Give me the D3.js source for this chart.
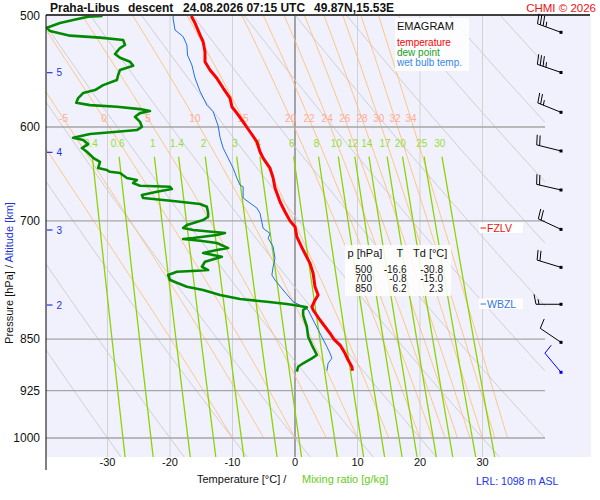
<!DOCTYPE html>
<html>
<head>
<meta charset="utf-8">
<script src="https://cdn.jsdelivr.net/npm/d3@7"></script>
<style>
body { margin: 0; background: #fff; }
svg { font-family: "Liberation Sans", Arial, sans-serif; }
</style>
</head>
<body>
<div id="vis"></div>
<script>
// sounding values (p in hPa, T in °C)
const TEMP_P = [500, 505.8, 515.8, 521.6, 530.2, 539.0, 546.4, 553.9, 562.8, 572.2, 580.4, 586.5, 594.9, 604.7, 614.7, 624.9, 631.4, 641.9, 652.5, 663.3, 678.4, 689.6, 700, 706.9, 718.6, 734.4, 750.6, 763.0, 780.0, 790.7, 797.4, 806.1, 810.4, 823.8, 842.0, 850, 858.4, 870.1, 879.9, 889.5, 895.3];
const TEMP_T = [-16.6, -16.0, -15.2, -14.7, -14.4, -14.4, -13.6, -12.5, -11.5, -10.4, -10.1, -9.3, -8.3, -7.2, -6.1, -5.6, -5.1, -4.0, -3.5, -3.2, -2.4, -1.6, -0.8, 0.0, 0.3, 1.3, 2.4, 2.9, 3.2, 3.7, 3.2, 2.7, 2.9, 4.0, 5.6, 6.2, 7.2, 8.0, 8.5, 9.1, 9.2];

const DEW_P = [500, 500.6, 503.3, 505.8, 509.7, 512.5, 516.4, 518.1, 520.1, 524.4, 527.0, 532.2, 535.5, 539.0, 542.5, 546.4, 550.9, 555.5, 560.1, 564.7, 567.5, 572.2, 576.6, 578.8, 580.4, 582.6, 584.5, 586.5, 590.0, 594.9, 599.8, 603.0, 604.7, 607.0, 610.7, 613.0, 617.1, 621.1, 624.9, 631.1, 635.3, 641.9, 644.0, 645.8, 647.1, 652.5, 654.6, 657.9, 660.8, 661.9, 664.4, 667.3, 671.0, 674.3, 677.6, 680.9, 684.0, 691.1, 695.3, 699.1, 704.8, 708.3, 710.6, 714.1, 716.5, 720.0, 721.2, 723.2, 726.0, 732.0, 734.4, 738.0, 742.5, 748.6, 754.8, 758.9, 759.8, 761.0, 765.1, 771.5, 780.0, 784.2, 790.7, 795.9, 799.5, 802.5, 805.1, 806.9, 810.4, 817.1, 833.0, 846.7, 858.4, 872.5, 877.3, 884.5, 889.5, 896.8];
const DEW_T = [-30.8, -33.1, -35.5, -37.6, -39.7, -39.2, -36.0, -31.2, -27.5, -27.2, -28.0, -28.8, -28.0, -26.4, -25.9, -28.0, -28.3, -28.5, -30.7, -32.0, -33.9, -34.7, -35.0, -32.8, -28.5, -24.8, -23.2, -24.8, -25.6, -24.8, -24.5, -25.3, -28.5, -32.8, -35.5, -33.9, -33.1, -34.1, -33.3, -32.3, -31.2, -31.5, -30.1, -29.6, -28.0, -26.9, -25.3, -25.9, -24.8, -20.0, -19.7, -22.1, -24.5, -24.3, -19.5, -15.2, -14.1, -13.9, -13.9, -14.7, -17.3, -17.9, -16.3, -11.2, -12.5, -16.3, -17.9, -15.2, -12.5, -10.7, -12.5, -14.7, -11.7, -14.4, -14.9, -13.9, -15.7, -18.9, -20.3, -20.0, -17.3, -14.7, -12.0, -8.8, -4.5, -1.3, 0.8, 1.9, 1.3, 1.3, 1.9, 2.1, 2.7, 3.5, 2.7, 1.3, 0.5, 0.3];

const WET_P = [500, 502.3, 511.6, 517.2, 524.4, 533.1, 541.9, 553.6, 565.8, 578.8, 585.1, 598.8, 610.2, 621.1, 631.4, 641.9, 652.5, 660.0, 661.9, 674.3, 679.8, 685.4, 691.4, 708.7, 714.6, 720.4, 730.4, 744.4, 754.8, 765.1, 771.5, 784.2, 799.5, 806.1, 810.4, 823.8, 842.0, 860.7, 870.1, 877.3, 884.5, 895.3];
const WET_T = [-19.5, -19.5, -19.2, -17.9, -17.3, -17.2, -16.5, -16.0, -15.2, -14.1, -13.1, -12.3, -12.0, -11.5, -10.7, -9.9, -9.3, -8.8, -8.3, -8.3, -7.2, -6.1, -5.6, -5.1, -4.0, -4.3, -3.5, -3.2, -3.5, -3.7, -3.2, -1.9, -0.3, 1.3, 2.1, 2.9, 4.0, 5.1, 5.6, 5.9, 5.3, 5.1];

// wind: level, direction (deg), speed (kt)
const WIND_P = [513.6, 548.6, 585.7, 624.1, 665.4, 709.9, 755.6, 802.8, 854.6, 897.7];
const WIND_DIR = [290, 289, 292, 284, 283, 295, 287, 270, 304, 320];
const WIND_KT = [35, 35, 25, 20, 20, 20, 20, 15, 10, 10];

// table in the box
const TABLE_P = [500, 700, 850];
const TABLE_T = ["-16.6", "-0.8", "6.2"];
const TABLE_TD = ["-30.8", "-15.0", "2.3"];

// axes and reference lines
const T_TICKS = [-30, -20, -10, 0, 10, 20, 30];
const P_LABELS = [500, 600, 700, 850, 925, 1000];
const P_LINES = [600, 700, 850, 925, 1000];
const ALT_KM = [2, 3, 4, 5];
const ALT_P = [803.8, 710.6, 625.5, 548.8];
const DRY_T1000 = [-30, -20, -10, 0, 10, 20, 30, 40, 50, 60, 70, 80, 90, 100];
const MOIST_THW = [-10, -5, 0, 5, 10, 15, 20, 22, 24, 26, 28, 30, 32, 34];
const MIX_W = [0.4, 0.6, 1, 1.4, 2, 3, 4, 6, 8, 10, 12, 14, 17, 20, 25, 30];
const FZLV_P = 708.3;
const WBZL_P = 802.5;

const WIDTH = 600, HEIGHT = 500;
const PLOT = {left: 46, right: 545, top: 16, bottom: 457, bgRight: 591};

const X = d3.scaleLinear().domain([-40, 40]).range([45, 545]);
const Y = d3.scaleLog().domain([500, 1000]).range([16, 438]);
const P_BOTTOM = Y.invert(PLOT.bottom);

const svg = d3.select("#vis").append("svg")
  .attr("width", WIDTH).attr("height", HEIGHT);

svg.append("defs").append("clipPath").attr("id", "clip")
  .append("rect")
  .attr("x", PLOT.left).attr("y", PLOT.top)
  .attr("width", PLOT.right - PLOT.left).attr("height", PLOT.bottom - PLOT.top);

// background
svg.append("rect")
  .attr("x", PLOT.left).attr("y", PLOT.top)
  .attr("width", PLOT.bgRight - PLOT.left).attr("height", PLOT.bottom - PLOT.top)
  .attr("fill", "#f1f1fd");

const grid = svg.append("g").attr("clip-path", "url(#clip)");

// vertical temperature lines
grid.selectAll(".vgrid").data(T_TICKS).join("line")
  .attr("x1", d => X(d)).attr("x2", d => X(d))
  .attr("y1", PLOT.top).attr("y2", PLOT.bottom)
  .attr("stroke", d => d === 0 ? "#7a7a7a" : "#d2d2d2")
  .attr("stroke-width", d => d === 0 ? 1.3 : 1);

// physics helpers for the reference lines
const KAPPA = 0.2857;
function esat(tc) { return 6.112 * Math.exp(17.67 * tc / (tc + 243.5)); }
function dewFromMix(w, p) {
  const a = Math.log(w * p / (622 + w) / 6.112);
  return 243.5 * a / (17.67 - a);
}
function moistRate(p, tk) {
  const es = esat(tk - 273.15);
  const rs = 0.622 * es / (p - es);
  const L = 2.501e6;
  return (287.04 * tk + L * rs) / (1005.7 + L * L * rs * 0.622 / (287.04 * tk * tk)) / p;
}
function moistLine(thw) {
  const pts = [[1000, thw]];
  let tk = thw + 273.15;
  for (let p = 1000; p > 500; p -= 2) {
    const k1 = moistRate(p, tk);
    const k2 = moistRate(p - 1, tk - k1);
    tk -= 2 * k2;
    pts.push([p - 2, tk - 273.15]);
  }
  return pts;
}
function pSteps(p0, p1) {
  const out = [];
  for (let p = p0; p < p1; p += 5) out.push(p);
  out.push(p1);
  return out;
}

const line = d3.line().x(d => X(d[1])).y(d => Y(d[0]));

// dry adiabats
grid.selectAll(".dry").data(DRY_T1000).join("path")
  .attr("d", t => line(pSteps(500, P_BOTTOM).map(p => [p, (t + 273.15) * Math.pow(p / 1000, KAPPA) - 273.15])))
  .attr("fill", "none").attr("stroke", "#cfcfcf").attr("stroke-width", 1);

// moist adiabats
const moistData = MOIST_THW.map(t => ({t: t, pts: moistLine(t)}));
grid.selectAll(".moist").data(moistData).join("path")
  .attr("d", d => line(d.pts))
  .attr("fill", "none").attr("stroke", "#ffbe73").attr("stroke-width", 0.9);

// mixing ratio lines
grid.selectAll(".mix").data(MIX_W).join("path")
  .attr("d", w => line(pSteps(630, P_BOTTOM).map(p => [p, dewFromMix(w, p)])))
  .attr("fill", "none").attr("stroke", "#8cd400").attr("stroke-width", 1.3);

// horizontal pressure lines
svg.selectAll(".hgrid").data(P_LINES).join("line")
  .attr("x1", PLOT.left).attr("x2", PLOT.right)
  .attr("y1", d => Y(d)).attr("y2", d => Y(d))
  .attr("stroke", "#a6a6a6").attr("stroke-width", 1.3);

// moist adiabat labels
const MOIST_LABEL_P = Y.invert(118);
svg.selectAll(".mlab").data(moistData.filter(d => d.t >= -5)).join("text")
  .attr("x", d => {
    const pt = d.pts.reduce((a, b) => Math.abs(b[0] - MOIST_LABEL_P) < Math.abs(a[0] - MOIST_LABEL_P) ? b : a);
    return X(pt[1]);
  })
  .attr("y", 122)
  .attr("text-anchor", "middle")
  .attr("font-size", "10px")
  .attr("fill", "#ffab94")
  .text(d => d.t);

// mixing ratio labels
const MIX_LABEL_P = Y.invert(143);
svg.selectAll(".wlab").data(MIX_W).join("text")
  .attr("x", w => X(dewFromMix(w, MIX_LABEL_P)))
  .attr("y", 147)
  .attr("text-anchor", "middle")
  .attr("font-size", "10px")
  .attr("fill", "#99dd33")
  .text(w => w);

// profiles
const prof = svg.append("g").attr("clip-path", "url(#clip)");
prof.append("path").datum(d3.zip(WET_P, WET_T))
  .attr("d", line).attr("fill", "none")
  .attr("stroke", "#1f6fe6").attr("stroke-width", 1);
prof.append("path").datum(d3.zip(DEW_P, DEW_T))
  .attr("d", line).attr("fill", "none")
  .attr("stroke", "#008a00").attr("stroke-width", 2.6).attr("stroke-linejoin", "round");
prof.append("path").datum(d3.zip(TEMP_P, TEMP_T))
  .attr("d", line).attr("fill", "none")
  .attr("stroke", "#ff0000").attr("stroke-width", 3).attr("stroke-linejoin", "round");

// left axis, title rule
svg.append("line").attr("x1", 46).attr("x2", 46).attr("y1", 15).attr("y2", 470)
  .attr("stroke", "#000").attr("stroke-width", 1);
svg.append("line").attr("x1", 46).attr("x2", 590).attr("y1", 15).attr("y2", 15)
  .attr("stroke", "#000").attr("stroke-width", 1.5);

// pressure labels
svg.selectAll(".plab").data(P_LABELS).join("text")
  .attr("x", 40).attr("y", d => Y(d) + 4)
  .attr("text-anchor", "end").attr("font-size", "12px").attr("fill", "#111")
  .text(d => d);

// altitude ticks
const alt = svg.append("g");
alt.selectAll("line").data(ALT_P).join("line")
  .attr("x1", 47).attr("x2", 52.5)
  .attr("y1", d => Y(d)).attr("y2", d => Y(d))
  .attr("stroke", "#2233dd").attr("stroke-width", 1.2);
alt.selectAll("text").data(ALT_KM).join("text")
  .attr("x", 56.5).attr("y", (d, i) => Y(ALT_P[i]) + 3.5)
  .attr("font-size", "10px").attr("fill", "#2233dd")
  .text(d => d);

// temperature tick labels
svg.selectAll(".tlab").data(T_TICKS).join("text")
  .attr("x", d => X(d)).attr("y", 466)
  .attr("text-anchor", "middle").attr("font-size", "11px").attr("fill", "#111")
  .text(d => d);

// axis titles
const ytitle = svg.append("text")
  .attr("transform", "translate(13,273) rotate(-90)")
  .attr("text-anchor", "middle").attr("font-size", "11px");
ytitle.append("tspan").attr("fill", "#111").text("Pressure [hPa]  /  ");
ytitle.append("tspan").attr("fill", "#2233dd").text("Altitude [km]");

svg.append("text").attr("x", 197).attr("y", 483).attr("font-size", "11px").attr("fill", "#111")
  .text("Temperature [°C]  /");
svg.append("text").attr("x", 302).attr("y", 483).attr("font-size", "11px").attr("fill", "#66cc22")
  .text("Mixing ratio [g/kg]");
svg.append("text").attr("x", 476).attr("y", 485).attr("font-size", "10.5px").attr("fill", "#2233ee")
  .text("LRL: 1098 m ASL");

// title
const TITLE = [["Praha-Libus", 50], ["descent", 128], ["24.08.2026 07:15 UTC", 183], ["49.87N,15.53E", 314]];
svg.selectAll(".title").data(TITLE).join("text")
  .attr("x", d => d[1]).attr("y", 12)
  .attr("font-size", "12px").attr("font-weight", "bold").attr("fill", "#111")
  .text(d => d[0]);
svg.append("text").attr("x", 596).attr("y", 12).attr("text-anchor", "end")
  .attr("font-size", "11.5px").attr("fill", "#ee1111").text("CHMI © 2026");

// legend
svg.append("rect").attr("x", 395).attr("y", 18).attr("width", 74).attr("height", 53)
  .attr("fill", "#fff").attr("fill-opacity", 0.85);
svg.append("text").attr("x", 397).attr("y", 30).attr("font-size", "11px").attr("fill", "#111").text("EMAGRAM");
const LEGEND = [["temperature", "#ff0000"], ["dew point", "#22a022"], ["wet bulb temp.", "#3388ee"]];
svg.selectAll(".leg").data(LEGEND).join("text")
  .attr("x", 397).attr("y", (d, i) => 45.5 + i * 10)
  .attr("font-size", "10px").attr("fill", d => d[1])
  .text(d => d[0]);

// level markers
function levelTag(p, label, color) {
  const yy = Y(p);
  svg.append("rect").attr("x", 479).attr("y", yy - 5.5).attr("width", 44).attr("height", 10.5)
    .attr("fill", "#fff").attr("fill-opacity", 0.9);
  svg.append("line").attr("x1", 480.5).attr("x2", 486).attr("y1", yy).attr("y2", yy)
    .attr("stroke", color).attr("stroke-width", 1);
  svg.append("text").attr("x", 487).attr("y", yy + 4)
    .attr("font-size", "10.5px").attr("fill", color).text(label);
}
levelTag(FZLV_P, "FZLV", "#ee1111");
levelTag(WBZL_P, "WBZL", "#3377dd");

// value table
svg.append("rect").attr("x", 345).attr("y", 245).attr("width", 106).attr("height", 51)
  .attr("fill", "#fff").attr("fill-opacity", 0.85);
const HEAD = [["p [hPa]", 347.5], ["T", 396.5], ["Td [°C]", 413]];
svg.selectAll(".thead").data(HEAD).join("text")
  .attr("x", d => d[1]).attr("y", 257)
  .attr("font-size", "11px").attr("fill", "#111").text(d => d[0]);
const rows = svg.selectAll(".trow").data(TABLE_P).join("g")
  .attr("transform", (d, i) => "translate(0," + (272.5 + i * 9.7) + ")");
rows.append("text").attr("x", 372).attr("text-anchor", "end").attr("font-size", "10px").attr("fill", "#111").text(d => d);
rows.append("text").attr("x", 406.5).attr("text-anchor", "end").attr("font-size", "10px").attr("fill", "#111").text((d, i) => TABLE_T[i]);
rows.append("text").attr("x", 443).attr("text-anchor", "end").attr("font-size", "10px").attr("fill", "#111").text((d, i) => TABLE_TD[i]);

// wind barbs
const BARB_X = 561, STAFF = 25;
WIND_P.forEach((p, i) => {
  const color = i === WIND_P.length - 1 ? "#0000ee" : "#000";
  const yy = Y(p);
  const a = WIND_DIR[i] * Math.PI / 180;
  const dx = Math.sin(a), dy = -Math.cos(a);
  const nx = -dy, ny = dx;
  const g = svg.append("g").attr("stroke", color).attr("stroke-width", 1).attr("fill", "none");
  const ex = BARB_X + dx * STAFF, ey = yy + dy * STAFF;
  g.append("line").attr("x1", BARB_X).attr("y1", yy).attr("x2", ex).attr("y2", ey);
  let kt = WIND_KT[i], pos = 0;
  while (kt >= 10) {
    const bx = ex - dx * pos, by = ey - dy * pos;
    g.append("line").attr("x1", bx).attr("y1", by)
      .attr("x2", bx + nx * 10 + dx * 2).attr("y2", by + ny * 10 + dy * 2);
    kt -= 10; pos += 3;
  }
  if (kt >= 5) {
    const bx = ex - dx * pos, by = ey - dy * pos;
    g.append("line").attr("x1", bx).attr("y1", by)
      .attr("x2", bx + nx * 5 + dx * 1).attr("y2", by + ny * 5 + dy * 1);
  }
  svg.append("rect").attr("x", BARB_X - 1.5).attr("y", yy - 1.5)
    .attr("width", 3).attr("height", 3).attr("fill", color);
});
</script>
</body>
</html>
